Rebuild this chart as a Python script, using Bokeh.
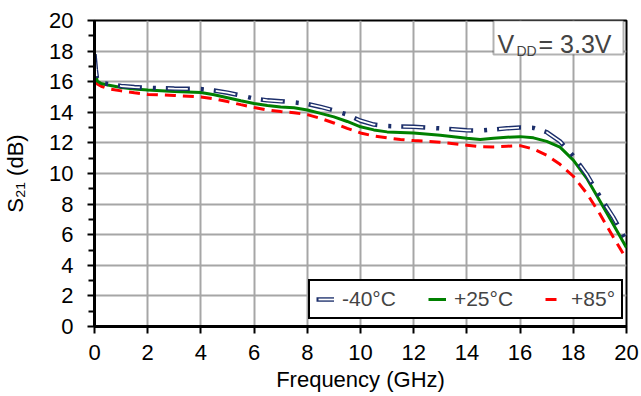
import math
from bokeh.plotting import figure
from bokeh.models import (Range1d, FixedTicker, Label, BoxAnnotation, Legend,
                          LegendItem, ColumnDataSource)
from bokeh.embed import file_html
from bokeh.resources import INLINE

# ---------------- data ----------------
freq = [0, 0.05, 0.1, 0.25, 0.5, 1, 1.5, 2, 3, 4, 4.5, 5, 5.5, 6, 6.5, 7, 7.5, 8,
        8.5, 9, 9.5, 10, 10.5, 11, 11.5, 12, 13, 14, 14.5, 15, 15.5, 16, 16.5, 17,
        17.5, 18, 18.5, 19, 19.5, 20]
s21_m40 = [17.8, 16.8, 16.1, 15.92, 15.85, 15.72, 15.65, 15.6, 15.55, 15.52, 15.42,
           15.28, 15.1, 14.9, 14.78, 14.72, 14.65, 14.55, 14.35, 14.12, 13.85, 13.45,
           13.2, 13.1, 13.07, 13.05, 12.95, 12.82, 12.8, 12.88, 12.95, 13.0, 12.98,
           12.7, 12.1, 11.15, 9.95, 8.5, 7.15, 5.6]
s21_p25 = [17.6, 16.6, 16.05, 15.88, 15.78, 15.62, 15.52, 15.46, 15.36, 15.3, 15.15,
           14.95, 14.75, 14.58, 14.45, 14.35, 14.3, 14.15, 13.93, 13.7, 13.4, 13.05,
           12.85, 12.72, 12.68, 12.64, 12.5, 12.3, 12.22, 12.3, 12.37, 12.41, 12.33,
           12.1, 11.72, 10.87, 9.7, 8.2, 6.68, 5.15]
s21_p85 = [17.2, 16.3, 15.85, 15.7, 15.55, 15.4, 15.28, 15.17, 15.1, 15.0, 14.88,
           14.7, 14.5, 14.32, 14.15, 14.05, 13.97, 13.85, 13.6, 13.3, 12.95, 12.65,
           12.45, 12.33, 12.22, 12.15, 12.05, 11.85, 11.75, 11.74, 11.78, 11.82, 11.6,
           11.2, 10.6, 9.82, 8.72, 7.35, 5.85, 4.41]
series_labels = ["-40°C", "+25°C", "+85°"]
x_ticks = [0, 2, 4, 6, 8, 10, 12, 14, 16, 18, 20]
y_ticks = [0, 2, 4, 6, 8, 10, 12, 14, 16, 18, 20]
y_minor = [1, 3, 5, 7, 9, 11, 13, 15, 17, 19]

NAVY = "#1c2f6b"
GREEN = "#008000"
RED = "#ff0000"
FONT = "Liberation Sans"

# frame geometry (page pixels) -> helpers for placing the in-frame annotation
FX0, FX1, FY0, FY1 = 94, 626, 20, 326
XS = (FX1 - FX0) / 20.0
YS = (FY1 - FY0) / 20.0
def dx(px):
    return (px - FX0) / XS
def dy(py):
    return (FY1 - py) / YS

p = figure(frame_width=FX1 - FX0, frame_height=FY1 - FY0,
           x_range=Range1d(0, 20), y_range=Range1d(0, 20),
           output_backend="svg", toolbar_location=None,
           min_border_left=FX0, min_border_right=641 - FX1, min_border_top=FY0,
           min_border_bottom=396 - FY1, background_fill_color="white",
           border_fill_color="white")

src = ColumnDataSource(dict(f=freq, m40=s21_m40, p25=s21_p25, p85=s21_p85))

r85 = p.line("f", "p85", source=src, line_color=RED, line_width=3, line_dash="11 7")
r25 = p.line("f", "p25", source=src, line_color=GREEN, line_width=3)
rm_a = p.line("f", "m40", source=src, line_color=NAVY, line_width=4.5,
              line_dash="24 11 3 10")
rm_b = p.line("f", "m40", source=src, line_color="white", line_width=1.8,
              line_dash="20 28", line_dash_offset=46)

# axes
for ax in (p.xaxis[0], p.yaxis[0]):
    ax.axis_line_color = "black"
    ax.axis_line_width = 3
    ax.major_tick_line_color = "black"
    ax.major_tick_line_width = 2
    ax.major_tick_out = 7
    ax.major_tick_in = 0
    ax.major_label_text_font = FONT
    ax.major_label_text_font_size = "22px"
    ax.major_label_text_color = "black"
    ax.axis_label_text_font = FONT
    ax.axis_label_text_font_size = "22px"
    ax.axis_label_text_font_style = "normal"
    ax.axis_label_text_color = "black"

p.xaxis.ticker = FixedTicker(ticks=x_ticks)
p.xaxis.minor_tick_line_color = None
p.xaxis.major_label_standoff = 11
p.xaxis.axis_label = "Frequency (GHz)"
p.xaxis.axis_label_standoff = 4

p.yaxis.ticker = FixedTicker(ticks=y_ticks, minor_ticks=y_minor)
p.yaxis.minor_tick_line_color = "black"
p.yaxis.minor_tick_line_width = 2
p.yaxis.minor_tick_out = 6
p.yaxis.minor_tick_in = 0
p.yaxis.major_label_standoff = 14
p.yaxis.axis_label = "S\u2082\u2081 (dB)"
p.yaxis.axis_label_standoff = 18

p.xgrid.grid_line_color = "#a6a6a6"
p.ygrid.grid_line_color = "#a6a6a6"
p.xgrid.grid_line_width = 2
p.ygrid.grid_line_width = 2

p.outline_line_color = "black"
p.outline_line_width = 2
p.outline_line_alpha = 1

# legend
legend = Legend(items=[LegendItem(label=series_labels[0], renderers=[rm_a, rm_b]),
                       LegendItem(label=series_labels[1], renderers=[r25]),
                       LegendItem(label=series_labels[2], renderers=[r85])],
                location=(214, 7), orientation="horizontal", margin=0, padding=6,
                spacing=32, glyph_width=18, glyph_height=20, label_standoff=8,
                label_height=20, label_text_font=FONT, label_text_font_size="21px",
                border_line_color="black", border_line_width=2, border_line_alpha=1,
                background_fill_color="white", background_fill_alpha=1)
p.add_layout(legend)

# V_DD annotation box
p.add_layout(BoxAnnotation(left=dx(493), right=dx(623), top=dy(20), bottom=dy(54),
                           fill_color="white", fill_alpha=1, line_color="black",
                           line_width=2))
p.add_layout(Label(x=dx(497), y=dy(43), text="V", text_font=FONT,
                   text_font_size="25px", text_baseline="alphabetic"))
p.add_layout(Label(x=dx(516), y=dy(50), text="DD", text_font=FONT,
                   text_font_size="14px", text_baseline="alphabetic"))
p.add_layout(Label(x=dx(538), y=dy(43), text="= 3.3V", text_font=FONT,
                   text_font_size="25px", text_baseline="alphabetic"))

open("out.html", "w").write(file_html(p, INLINE))
